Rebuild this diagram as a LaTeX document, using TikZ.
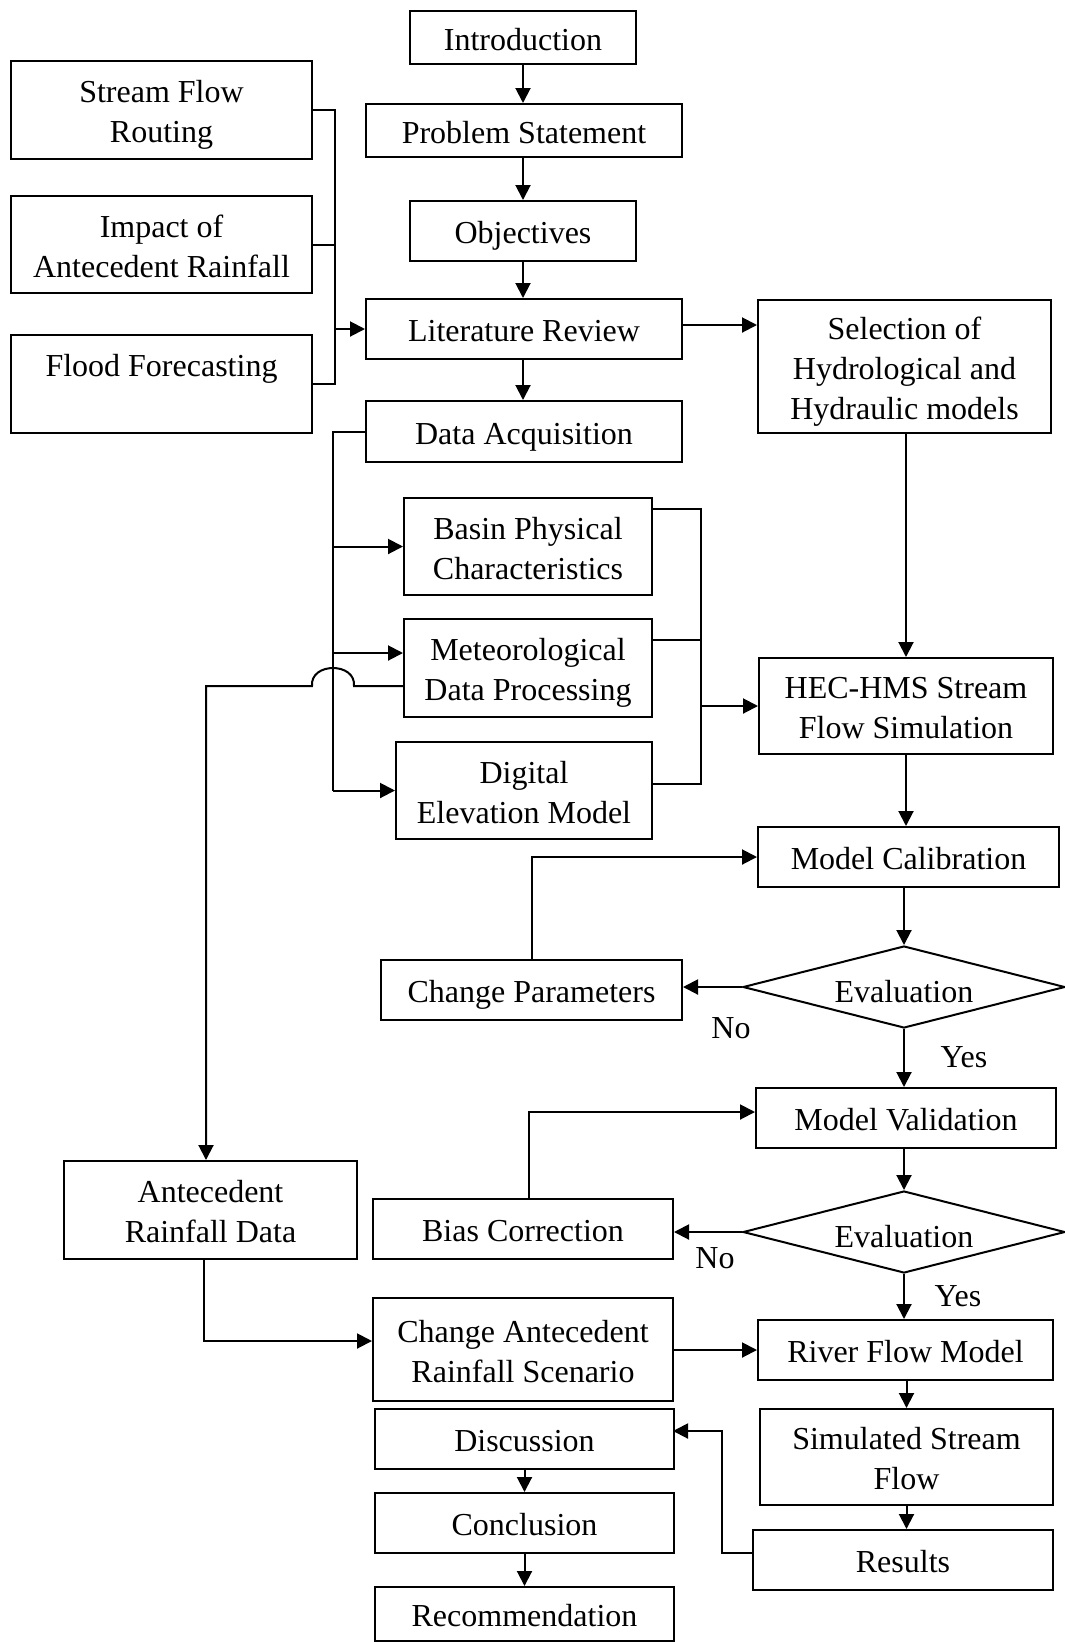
\documentclass[tikz,border=0pt]{standalone}
\usepackage{fontspec}
\setmainfont{Liberation Serif}
\usetikzlibrary{shapes.geometric,arrows.meta,calc}
\newcommand\mlines[1]{\begin{tabular}{@{}c@{}}\rule{0pt}{37pt}#1\end{tabular}}
\begin{document}
\begin{tikzpicture}[x=1pt,y=-1pt,
  line width=2pt,
  every node/.style={font=\fontsize{32}{40}\selectfont},
  txtfix/.style={execute at begin node={\rule{0pt}{34pt}}, execute at end node={\rule[-9pt]{0pt}{9pt}}},
  box/.style={draw, rectangle, inner sep=0pt, align=center, anchor=north west, txtfix},
  dia/.style={draw, diamond, inner sep=0pt, minimum width=322pt, minimum height=82pt, aspect=3.9, txtfix},
  arr/.style={-{Triangle[length=15pt,width=15pt]}},
  lbl/.style={inner sep=0pt}
]
\useasboundingbox (0,0) rectangle (1065,1642);
\fill[white] (0,0) rectangle (1065,1642);

% main column
\node[box, minimum width=226pt, minimum height=53pt] (intro) at (409,10) {Introduction};
\node[box, minimum width=316pt, minimum height=53pt] (prob) at (365,103) {Problem Statement};
\node[box, minimum width=226pt, minimum height=60pt] (obj) at (409,200) {Objectives};
\node[box, minimum width=316pt, minimum height=60pt] (lit) at (365,298) {Literature Review};
\node[box, minimum width=316pt, minimum height=61pt] (data) at (365,400) {Data Acquisition};

% left column top
\node[box, minimum width=301pt, minimum height=98pt] (sfr) at (10,60) {\mlines{Stream Flow\\Routing}};
\node[box, minimum width=301pt, minimum height=97pt] (imp) at (10,195) {\mlines{Impact of\\Antecedent Rainfall}};
\node[box, minimum width=301pt, minimum height=98pt] (ff) at (10,334) {\mlines{Flood Forecasting\\\mbox{}}};

% right column
\node[box, minimum width=293pt, minimum height=133pt] (sel) at (757,299) {\mlines{Selection of\\Hydrological and\\Hydraulic models}};
\node[box, minimum width=294pt, minimum height=96pt] (hec) at (758,657) {\mlines{HEC-HMS Stream\\Flow Simulation}};
\node[box, minimum width=301pt, minimum height=60pt] (calib) at (757,826) {Model Calibration};
\node[dia] (eval1) at (904,987) {\raisebox{-3pt}{Evaluation}};
\node[box, minimum width=300pt, minimum height=60pt] (val) at (755,1087) {Model Validation};
\node[dia] (eval2) at (904,1232) {\raisebox{-3pt}{Evaluation}};
\node[box, minimum width=295pt, minimum height=60pt] (river) at (757,1319) {River Flow Model};
\node[box, minimum width=293pt, minimum height=96pt] (sim) at (759,1408) {\mlines{Simulated Stream\\Flow}};
\node[box, minimum width=300pt, minimum height=60pt] (res) at (752,1529) {Results};

% middle column
\node[box, minimum width=248pt, minimum height=97pt] (basin) at (403,497) {\mlines{Basin Physical\\Characteristics}};
\node[box, minimum width=248pt, minimum height=98pt] (meteo) at (403,618) {\mlines{Meteorological\\Data Processing}};
\node[box, minimum width=256pt, minimum height=97pt] (dem) at (395,741) {\mlines{Digital\\Elevation Model}};
\node[box, minimum width=301pt, minimum height=60pt] (chpar) at (380,959) {Change Parameters};
\node[box, minimum width=300pt, minimum height=60pt] (bias) at (372,1198) {Bias Correction};
\node[box, minimum width=300pt, minimum height=103pt] (chant) at (372,1297) {\mlines{Change Antecedent\\Rainfall Scenario}};
\node[box, minimum width=299pt, minimum height=60pt] (disc) at (374,1408) {Discussion};
\node[box, minimum width=299pt, minimum height=60pt] (concl) at (374,1492) {Conclusion};
\node[box, minimum width=299pt, minimum height=54pt] (rec) at (374,1586) {Recommendation};

% left lower
\node[box, minimum width=293pt, minimum height=98pt] (ante) at (63,1160) {\mlines{Antecedent\\Rainfall Data}};

% labels
\node[lbl] (no1) at (731,1028) {No};
\node[lbl] (yes1) at (964,1057) {Yes};
\node[lbl] (no2) at (715,1258) {No};
\node[lbl] (yes2) at (958,1296) {Yes};

% helper coordinates
\coordinate (busL) at (335,0);
\coordinate (busD) at (333,0);
\coordinate (mIn) at (403,653);
\coordinate (mOut) at (403,686);
\coordinate (hopR) at (354,686);
\coordinate (hopL) at (312,686);
\coordinate (aCol) at (206,686);
\coordinate (bkB) at (651,509);
\coordinate (bkM) at (651,640);
\coordinate (bkD) at (651,784);
\coordinate (bkX) at (701,0);
\coordinate (litOut) at (681,325);
\coordinate (bTop) at (529,1198);
\coordinate (vIn) at (755,1112);
\coordinate (aBot) at (204,1258);
\coordinate (cIn) at (372,1341);
\coordinate (rOut) at (752,1553);
\coordinate (dIn) at (673,1431);
\coordinate (rX) at (722,0);

% main column arrows
\draw[arr] (intro.south) -- (intro.south |- prob.north);
\draw[arr] (prob.south -| intro.south) -- (intro.south |- obj.north);
\draw[arr] (obj.south) -- (obj.south |- lit.north);
\draw[arr] (lit.south -| obj.south) -- (obj.south |- data.north);

% left bus
\draw (sfr.east) -- (sfr.east -| busL) -- (ff.east -| busL) -- (ff.east);
\draw (imp.east) -- (imp.east -| busL);
\draw[arr] (lit.west -| busL) -- (lit.west);

% lit -> selection
\draw[arr] (litOut) -- (litOut -| sel.west);

% data bus
\draw (data.west) -- (data.west -| busD) -- (dem.west -| busD);
\draw[arr] (dem.west -| busD) -- (dem.west);
\draw[arr] (basin.west -| busD) -- (basin.west);
\draw[arr] (mIn -| busD) -- (mIn);

% meteo -> antecedent with hop
\draw[arr] (mOut) -- (hopR) .. controls ($(hopR)+(2,-24)$) and ($(hopL)+(-2,-24)$) .. (hopL) -- (aCol) -- (aCol |- ante.north);

% bracket to HEC
\draw (bkB) -- (bkB -| bkX) -- (bkD -| bkX) -- (bkD);
\draw (bkM) -- (bkM -| bkX);
\draw[arr] (hec.west -| bkX) -- (hec.west);

% right column
\draw[arr] (sel.south -| hec.north) -- (hec.north);
\draw[arr] (hec.south) -- (hec.south |- calib.north);
\draw[arr] (calib.south -| eval1.north) -- (eval1.north);
\draw[arr] (eval1.west) -- (eval1.west -| chpar.east);
\draw[arr] (chpar.north) |- (calib.west);
\draw[arr] (eval1.south) -- (eval1.south |- val.north);
\draw[arr] (val.south -| eval2.north) -- (eval2.north);
\draw[arr] (eval2.west) -- (eval2.west -| bias.east);
\draw[arr] (bTop) |- (vIn);
\draw[arr] (eval2.south) -- (eval2.south |- river.north);
\draw[arr] (aBot) |- (cIn);
\draw[arr] (chant.east |- river.west) -- (river.west);
\draw[arr] (river.south -| sim.north) -- (sim.north);
\draw[arr] (sim.south) -- (sim.south |- res.north);
\draw[arr] (rOut) -- (rOut -| rX) -- (dIn -| rX) -- (dIn);
\draw[arr] (disc.south) -- (disc.south |- concl.north);
\draw[arr] (concl.south) -- (concl.south |- rec.north);
\end{tikzpicture}
\end{document}
